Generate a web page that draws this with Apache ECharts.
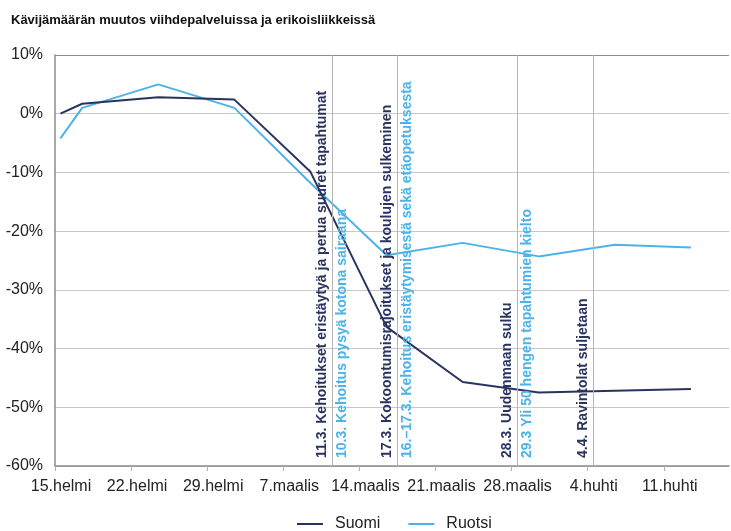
<!DOCTYPE html>
<html>
<head>
<meta charset="utf-8">
<script src="https://cdn.jsdelivr.net/npm/echarts@6/dist/echarts.min.js"></script>
<style>
  html, body { margin: 0; padding: 0; background: #fff; }
</style>
</head>
<body>
<div id="chart" style="width:731px;height:531px;"></div>
<script>
// viikkopäivämäärät (2020)
var dates = ['2020-02-15', '2020-02-17', '2020-02-24', '2020-03-02', '2020-03-09',
  '2020-03-16', '2020-03-23', '2020-03-30', '2020-04-06', '2020-04-13'];
var suomi = [0, 1.7, 2.8, 2.4, -9.9, -36.3, -45.7, -47.5, -47.2, -46.9];
var ruotsi = [-4.2, 1.0, 5.0, 1.0, -11.8, -24.1, -22.0, -24.3, -22.3, -22.8];
var tickLabels = ['15.helmi', '22.helmi', '29.helmi', '7.maalis', '14.maalis',
  '21.maalis', '28.maalis', '4.huhti', '11.huhti'];

// tapahtumat: [päivä, teksti, maa]
var events = [
  ['2020-03-11', '11.3. Kehoitukset eristäytyä ja perua suuret tapahtumat', 'fi'],
  ['2020-03-11', '10.3. Kehoitus pysyä kotona sairaana', 'se'],
  ['2020-03-17', '17.3. Kokoontumisrajoitukset ja koulujen sulkeminen', 'fi'],
  ['2020-03-17', '16.\u201317.3. Kehoitus eristäytymisestä sekä etäopetuksesta', 'se'],
  ['2020-03-28', '28.3. Uudenmaan sulku', 'fi'],
  ['2020-03-28', '29.3 Yli 50 hengen tapahtumien kielto', 'se'],
  ['2020-04-04', '4.4. Ravintolat suljetaan', 'fi']
];

var colFi = '#283360';
var colSe = '#4cb3e8';
var font = '"Liberation Sans", Arial, sans-serif';

// Excel-tyylinen päivämääräakseli: päivä keskellä omaa väliään
var start = Date.parse('2020-02-15');
function dayPos(d) {
  return (Date.parse(d) - start) / 864e5 + 0.5;
}

var fiData = dates.map(function (d, i) { return [dayPos(d), suomi[i]]; });
var seData = dates.map(function (d, i) { return [dayPos(d), ruotsi[i]]; });

var markData = events.map(function (e) {
  return {
    xAxis: dayPos(e[0]),
    label: {
      formatter: e[1],
      position: e[2] === 'fi' ? 'insideStartTop' : 'insideStartBottom',
      color: e[2] === 'fi' ? colFi : colSe
    }
  };
});

var gridColors = ['#c8c8c8', '#c8c8c8', '#c8c8c8', '#c8c8c8', '#c8c8c8', '#c8c8c8', '#c8c8c8', '#8c8c8c'];

var chart = echarts.init(document.getElementById('chart'));
chart.setOption({
  animation: false,
  textStyle: { fontFamily: font },
  title: {
    text: 'Kävijämäärän muutos viihdepalveluissa ja erikoisliikkeissä',
    left: 6,
    top: 9,
    textStyle: { fontSize: 13, fontWeight: 'bold', color: '#111', fontFamily: font }
  },
  grid: { left: 55, right: 2, top: 55, bottom: 65 },
  legend: {
    top: 511,
    left: 292,
    icon: 'rect',
    itemWidth: 26,
    itemHeight: 2,
    itemGap: 28,
    textStyle: { fontSize: 16, color: '#222', fontFamily: font, padding: [0, 0, 0, 7] },
    data: ['Suomi', 'Ruotsi']
  },
  xAxis: {
    type: 'value',
    min: 0,
    max: 62,
    interval: 7,
    axisLine: { onZero: false, lineStyle: { color: '#8c8c8c', width: 1.5 } },
    axisTick: { show: true, length: 5, lineStyle: { color: '#b0b0b0' } },
    splitLine: { show: false },
    axisLabel: {
      fontSize: 16,
      color: '#222',
      margin: 13,
      padding: [0, 0, 0, 12],
      showMaxLabel: false,
      formatter: function (v) {
        return v % 7 === 0 ? (tickLabels[v / 7] || '') : '';
      }
    }
  },
  yAxis: {
    type: 'value',
    min: -60,
    max: 10,
    interval: 10,
    axisLine: { show: true, lineStyle: { color: '#8c8c8c', width: 1.5 } },
    axisTick: { show: false },
    splitLine: { lineStyle: { color: gridColors, width: 1 } },
    axisLabel: {
      fontSize: 16,
      color: '#222',
      margin: 12,
      formatter: '{value}%'
    }
  },
  series: [
    {
      name: 'Suomi',
      type: 'line',
      data: fiData,
      symbol: 'none',
      color: colFi,
      lineStyle: { width: 2, color: colFi },
      z: 3,
      markLine: {
        silent: true,
        symbol: 'none',
        lineStyle: { color: '#b4b4b4', width: 1, type: 'solid' },
        label: {
          fontSize: 14,
          fontWeight: 'bold',
          fontFamily: font,
          distance: [8, 3]
        },
        data: markData
      }
    },
    {
      name: 'Ruotsi',
      type: 'line',
      data: seData,
      symbol: 'none',
      color: colSe,
      lineStyle: { width: 2, color: colSe },
      z: 2
    }
  ]
});
</script>
</body>
</html>
